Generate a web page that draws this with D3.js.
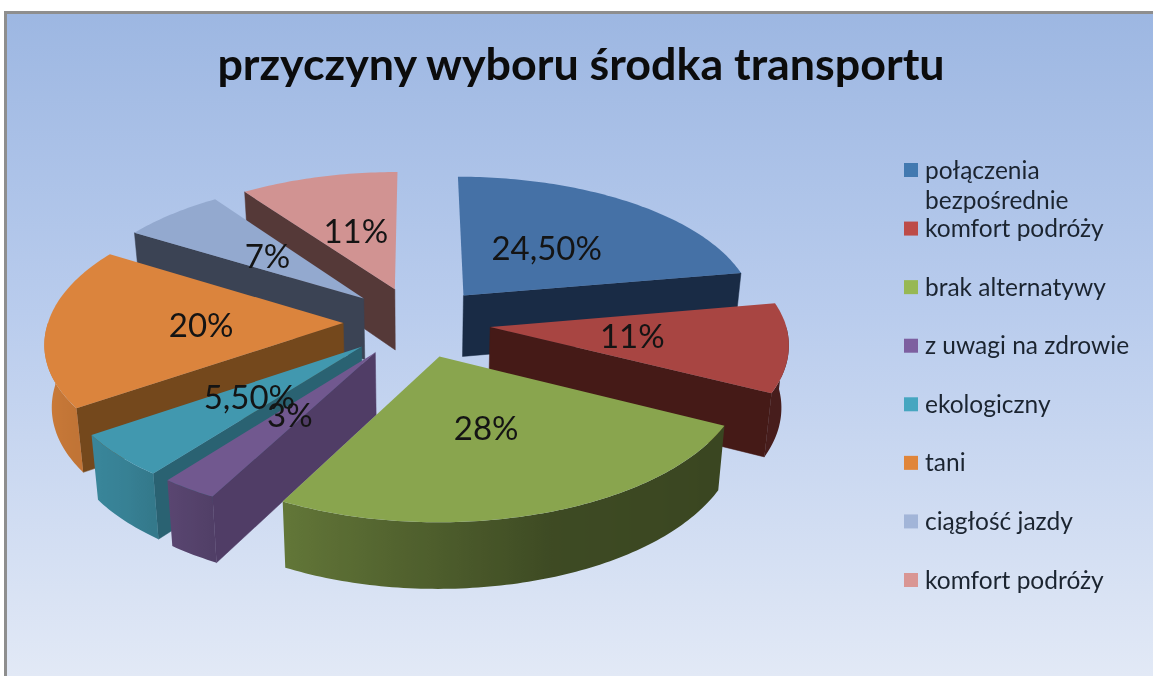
<!DOCTYPE html>
<html>
<head>
<meta charset="utf-8">
<script src="https://cdn.jsdelivr.net/npm/d3@7"></script>
<style>
  html, body { margin: 0; padding: 0; background: #fff; overflow: hidden; }
  svg { display: block; filter: blur(0.6px); }
  text { font-family: Lato, "Open Sans", sans-serif; }
</style>
</head>
<body>
<script>
const title = 'przyczyny wyboru środka transportu'
const categories = ['połączenia bezpośrednie', 'komfort podróży', 'brak alternatywy', 'z uwagi na zdrowie', 'ekologiczny', 'tani', 'ciągłość jazdy', 'komfort podróży']
const values = [24.5, 11, 28, 3, 5.5, 20, 7, 11]
const valueLabels = ['24,50%', '11%', '28%', '3%', '5,50%', '20%', '7%', '11%']

const topColors = ['#4571a6', '#a84542', '#89a54e', '#71588f', '#4198af', '#db843d', '#93a9cf', '#d19392']
const wallColors = ['#192b45', '#451a17', '#3e4a23', '#503d66', '#2a6272', '#74481c', '#3b4354', '#553938']
const legendColors = ['#4279b0', '#bd4b48', '#97b853', '#7d5fa0', '#46a6c0', '#e0853a', '#a2b5d8', '#d99694']

const width = 1153
const height = 676
const cx = 417
const cy = 322
const rx = 295
const ry = 141.5
const perspective = 0.116
const explode = 0.25
const depth = 63
const labelRadius = 0.48

// rim wall gets lighter going clockwise round the front of the pie
const rimShade = d3.scaleLinear()
  .domain([90, 116, 160, 208, 225, 260, 270])
  .range([0.42, 0.42, 0.45, 0.72, 0.85, 0.95, 0.95])

const svg = d3.select('body').append('svg')
  .attr('width', width)
  .attr('height', height)

const defs = svg.append('defs')
const bg = defs.append('linearGradient')
  .attr('id', 'bg')
  .attr('x1', 0).attr('y1', 0).attr('x2', 0).attr('y2', 1)
bg.append('stop').attr('offset', '0%').attr('stop-color', '#9db7e2')
bg.append('stop').attr('offset', '45%').attr('stop-color', '#b9cced')
bg.append('stop').attr('offset', '100%').attr('stop-color', '#e2e9f6')

svg.append('rect').attr('width', width).attr('height', height).attr('fill', '#fff')
svg.append('rect')
  .attr('x', 4).attr('y', 11)
  .attr('width', width - 4).attr('height', height - 11)
  .attr('fill', '#8e8e8e')
svg.append('rect')
  .attr('x', 7).attr('y', 14)
  .attr('width', width - 7).attr('height', height - 14)
  .attr('fill', 'url(#bg)')

svg.append('text')
  .attr('x', 581)
  .attr('y', 80)
  .attr('text-anchor', 'middle')
  .attr('font-size', 44.8)
  .attr('font-weight', 700)
  .attr('fill', '#0c0c0c')
  .text(title)

// slice corners in pie units, z = 1 is the underside
function project (x, y, z) {
  let s = (1 + perspective * y) * (1 - 0.02 * z)
  // front of the pie leans a little to the left in the original
  let lean = 4 * Math.max(y, 0)
  return [cx + x * rx * s - lean, cy + y * ry * s + z * depth * s]
}

const slices = d3.pie().sort(null).value(d => d)(values).map((d, i) => {
  let mid = (d.startAngle + d.endAngle) / 2
  return Object.assign(d, {
    i: i,
    mid: mid,
    ox: explode * Math.sin(mid),
    oy: -explode * Math.cos(mid)
  })
})

const rimPoint = (d, a, r, z) => project(d.ox + r * Math.sin(a), d.oy - r * Math.cos(a), z)
const line = d3.line()

function sweep (a0, a1) {
  let n = Math.max(2, Math.ceil(Math.abs(a1 - a0) * 180 / Math.PI))
  return d3.range(n + 1).map(k => a0 + (a1 - a0) * k / n)
}

const pieGroup = svg.append('g')

// back to front, the slice pushed furthest up the screen goes first
slices.slice().sort((a, b) => a.oy - b.oy).forEach(d => {
  let g = pieGroup.append('g')
  let walls = []

  // a flat side only shows when it faces the viewer
  if (-Math.cos(d.startAngle - Math.PI / 2) > 0.01) walls.push(d.startAngle)
  if (-Math.cos(d.endAngle + Math.PI / 2) > 0.01) walls.push(d.endAngle)

  walls.forEach(a => {
    g.append('path')
      .attr('d', line([
        rimPoint(d, a, 0, 0), rimPoint(d, a, 1, 0),
        rimPoint(d, a, 1, 1), rimPoint(d, a, 0, 1)
      ]) + 'Z')
      .attr('fill', wallColors[d.i])
      .attr('stroke', wallColors[d.i])
      .attr('stroke-width', 0.5)
  })

  let a0 = Math.max(d.startAngle, Math.PI / 2)
  let a1 = Math.min(d.endAngle, Math.PI * 1.5)
  if (a1 > a0) {
    let steps = sweep(a0, a1)
    let x0 = rimPoint(d, a0, 1, 0)[0]
    let x1 = rimPoint(d, a1, 1, 0)[0]
    let base = d3.rgb(topColors[d.i])

    // the rim is shaded along x, one stop per step of the sweep
    let grad = defs.append('linearGradient')
      .attr('id', 'rim' + d.i)
      .attr('gradientUnits', 'userSpaceOnUse')
      .attr('x1', x0).attr('y1', 0).attr('x2', x1).attr('y2', 0)
    grad.selectAll('stop')
      .data(steps)
      .join('stop')
      .attr('offset', a => (rimPoint(d, a, 1, 0)[0] - x0) / (x1 - x0))
      .attr('stop-color', a => {
        let f = rimShade(a * 180 / Math.PI)
        return d3.rgb(base.r * f, base.g * f, base.b * f).formatHex()
      })

    let rim = steps.map(a => rimPoint(d, a, 1, 0))
      .concat(steps.slice().reverse().map(a => rimPoint(d, a, 1, 1)))
    g.append('path')
      .attr('d', line(rim) + 'Z')
      .attr('fill', `url(#rim${d.i})`)
  }

  let outline = [rimPoint(d, d.startAngle, 0, 0)]
    .concat(sweep(d.startAngle, d.endAngle).map(a => rimPoint(d, a, 1, 0)))
  g.append('path')
    .attr('d', line(outline) + 'Z')
    .attr('fill', topColors[d.i])
})

svg.append('g')
  .selectAll('text')
  .data(slices)
  .join('text')
  .attr('x', d => rimPoint(d, d.mid, labelRadius, 0)[0])
  .attr('y', d => rimPoint(d, d.mid, labelRadius, 0)[1])
  .attr('dy', '0.35em')
  .attr('text-anchor', 'middle')
  .attr('font-size', 33)
  .attr('fill', '#141414')
  .text(d => valueLabels[d.i])

const legendY = d3.scaleLinear().domain([0, categories.length - 1]).range([170, 580])

const legend = svg.append('g')
  .selectAll('g')
  .data(categories)
  .join('g')
  .attr('transform', (d, i) => `translate(904, ${legendY(i)})`)

legend.append('rect')
  .attr('y', -7)
  .attr('width', 14)
  .attr('height', 14)
  .attr('fill', (d, i) => legendColors[i])

legend.append('text')
  .attr('font-size', 24.5)
  .attr('fill', '#1b2430')
  .selectAll('tspan')
  .data(d => d === 'połączenia bezpośrednie' ? d.split(' ') : [d])
  .join('tspan')
  .attr('x', 21)
  .attr('y', (d, i) => 8.5 + i * 30)
  .text(d => d)
</script>
</body>
</html>
